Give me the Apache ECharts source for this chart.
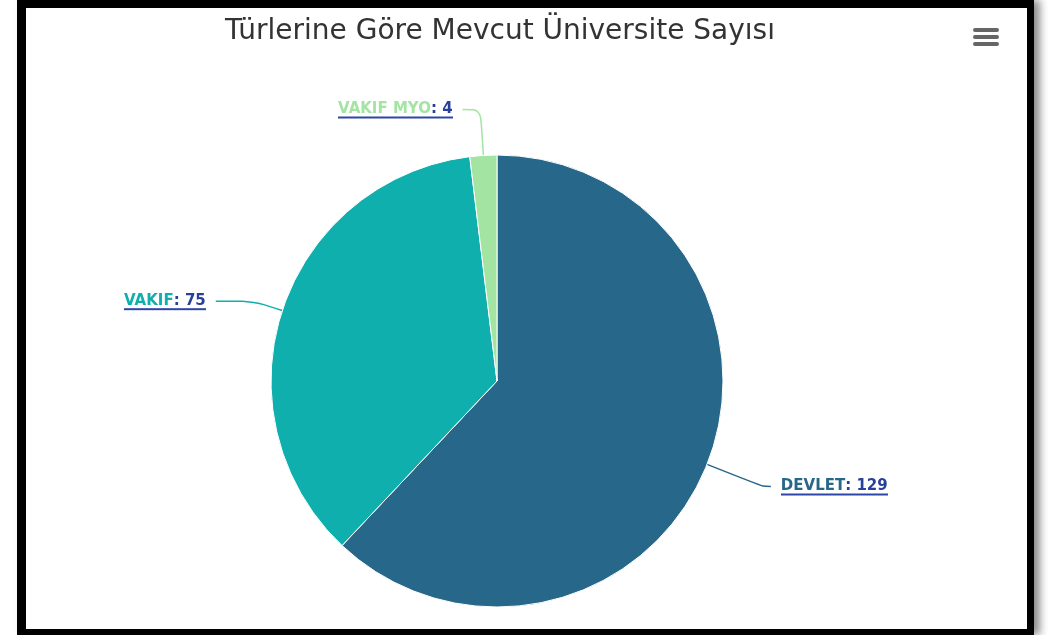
<!DOCTYPE html>
<html><head><meta charset="utf-8">
<script src="https://cdn.jsdelivr.net/npm/echarts@6/dist/echarts.min.js"></script>
<style>
html,body{margin:0;padding:0;background:#fff;width:1048px;height:635px;overflow:hidden;}
#frame{position:absolute;left:17px;top:0;width:1001px;height:621px;border-style:solid;border-color:#000;border-width:8px 7px 6px 9px;box-shadow:6px 0 8px rgba(0,0,0,0.45);background:#fff;}
#chart{width:1001px;height:621px;}
</style></head>
<body><div id="frame"><div id="chart"></div></div>
<script>
var titleText = 'Türlerine Göre Mevcut Üniversite Sayısı';
var categories = ['DEVLET', 'VAKIF', 'VAKIF MYO'];
var values = [129, 75, 4];
var colors = ['#27678a', '#0eafad', '#a3e4a2'];
var lineLengths = [[60, 8], [30, 38], [46, 18]];

function underlineImg(){
  var c = document.createElement('canvas');
  c.width = 4; c.height = 20;
  var g = c.getContext('2d');
  g.fillStyle = '#2e45a8';
  g.fillRect(0, 17, 4, 2);
  return c;
}
var ul = underlineImg();
var labelFont = 'DejaVu Sans';

var data = categories.map(function(n, i){
  return {
    name: n, value: values[i],
    itemStyle: {color: colors[i]},
    label: {rich: {n: {color: colors[i], fontSize: 15, fontWeight: 'bold', fontFamily: labelFont, lineHeight: 20}}},
    labelLine: {length: lineLengths[i][0], length2: lineLengths[i][1]}
  };
});

var chart = echarts.init(document.getElementById('chart'), null, {renderer: 'canvas'});
chart.setOption({
  animation: false,
  title: {text: titleText, left: 469, top: 5, textAlign: 'center',
    textStyle: {fontFamily: 'DejaVu Sans', fontSize: 28, fontWeight: 'normal', color: '#333333'}},
  graphic: [
    {type: 'rect', right: 28, top: 20, shape: {width: 26, height: 4, r: 2}, style: {fill: '#666666'}},
    {type: 'rect', right: 28, top: 27, shape: {width: 26, height: 4, r: 2}, style: {fill: '#666666'}},
    {type: 'rect', right: 28, top: 34, shape: {width: 26, height: 4, r: 2}, style: {fill: '#666666'}}
  ],
  series: [{
    type: 'pie',
    center: [471, 373],
    radius: [0, 226],
    startAngle: 90,
    clockwise: true,
    data: data,
    itemStyle: {borderColor: '#ffffff', borderWidth: 1},
    label: {
      show: true,
      formatter: '{n|{b}}{v|: {c}}',
      backgroundColor: {image: ul},
      padding: 0,
      lineHeight: 20,
      distanceToLabelLine: 10,
      rich: {v: {color: '#28409a', fontSize: 15, fontWeight: 'bold', fontFamily: labelFont, lineHeight: 20}}
    },
    labelLine: {smooth: 0.3, lineStyle: {width: 1.5}},
    emphasis: {disabled: true}
  }]
});
</script></body></html>
